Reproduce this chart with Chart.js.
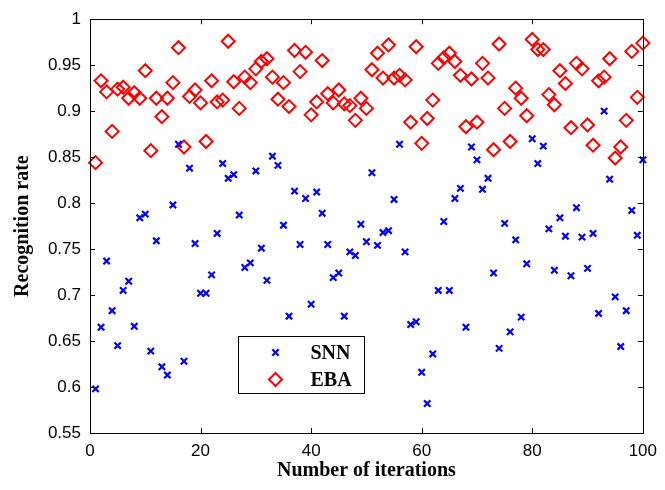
<!DOCTYPE html>
<html>
<head>
<meta charset="utf-8">
<script src="https://cdn.jsdelivr.net/npm/chart.js@4.4.1/dist/chart.umd.min.js"></script>
<style>
  html, body { margin: 0; padding: 0; background: #fff; }
</style>
</head>
<body>
<canvas id="recogChart" width="665" height="490"></canvas>
<script>
// iteration index of every run
const iterations = [
  1, 2, 3, 4, 5, 6, 7, 8, 9, 10, 11, 12, 13, 14, 15, 16, 17, 18, 19, 20,
  21, 22, 23, 24, 25, 26, 27, 28, 29, 30, 31, 32, 33, 34, 35, 36, 37, 38, 39, 40,
  41, 42, 43, 44, 45, 46, 47, 48, 49, 50, 51, 52, 53, 54, 55, 56, 57, 58, 59, 60,
  61, 62, 63, 64, 65, 66, 67, 68, 69, 70, 71, 72, 73, 74, 75, 76, 77, 78, 79, 80,
  81, 82, 83, 84, 85, 86, 87, 88, 89, 90, 91, 92, 93, 94, 95, 96, 97, 98, 99, 100
];

const snnRate = [
  0.598, 0.665, 0.737, 0.683, 0.645, 0.705, 0.715, 0.666, 0.784, 0.788,
  0.639, 0.759, 0.622, 0.613, 0.798, 0.864, 0.628, 0.838, 0.756, 0.702,
  0.702, 0.722, 0.767, 0.843, 0.827, 0.831, 0.787, 0.730, 0.735, 0.835,
  0.751, 0.716, 0.851, 0.841, 0.776, 0.677, 0.813, 0.755, 0.805, 0.690,
  0.812, 0.789, 0.755, 0.719, 0.724, 0.677, 0.747, 0.743, 0.777, 0.758,
  0.833, 0.754, 0.768, 0.770, 0.804, 0.864, 0.747, 0.668, 0.671, 0.616,
  0.582, 0.636, 0.705, 0.780, 0.705, 0.805, 0.816, 0.665, 0.861, 0.847,
  0.815, 0.827, 0.724, 0.642, 0.778, 0.660, 0.760, 0.676, 0.734, 0.870,
  0.843, 0.862, 0.772, 0.727, 0.784, 0.764, 0.721, 0.795, 0.763, 0.729,
  0.767, 0.680, 0.900, 0.826, 0.698, 0.644, 0.683, 0.792, 0.765, 0.847
];

const ebaRate = [
  0.844, 0.933, 0.921, 0.878, 0.924, 0.926, 0.914, 0.920, 0.914, 0.944,
  0.857, 0.914, 0.894, 0.914, 0.931, 0.969, 0.861, 0.916, 0.923, 0.909,
  0.867, 0.933, 0.910, 0.912, 0.976, 0.932, 0.903, 0.937, 0.931, 0.946,
  0.954, 0.957, 0.937, 0.913, 0.931, 0.905, 0.966, 0.943, 0.964, 0.896,
  0.910, 0.955, 0.919, 0.909, 0.923, 0.908, 0.906, 0.890, 0.914, 0.903,
  0.945, 0.963, 0.936, 0.972, 0.936, 0.939, 0.934, 0.888, 0.970, 0.865,
  0.892, 0.912, 0.952, 0.958, 0.963, 0.954, 0.939, 0.883, 0.935, 0.888,
  0.952, 0.936, 0.858, 0.973, 0.903, 0.867, 0.925, 0.914, 0.895, 0.978,
  0.967, 0.967, 0.918, 0.907, 0.944, 0.930, 0.882, 0.952, 0.946, 0.885,
  0.863, 0.933, 0.937, 0.957, 0.849, 0.861, 0.890, 0.965, 0.915, 0.974
];

const xTicks = [0, 20, 40, 60, 80, 100];
const xTickLabels = ["0", "20", "40", "60", "80", "100"];
const yTicks = [0.55, 0.6, 0.65, 0.7, 0.75, 0.8, 0.85, 0.9, 0.95, 1];
const yTickLabels = ["0.55", "0.6", "0.65", "0.7", "0.75", "0.8", "0.85", "0.9", "0.95", "1"];

const seriesNames = ["SNN", "EBA"];

const tickFont = { family: "'Liberation Sans', Arial, sans-serif", size: 17 };
const titleFont = { family: "'Liberation Serif', 'Times New Roman', serif", size: 20, weight: "bold" };

// box, inward ticks on all four sides and the legend, matlab style
const matlabFrame = {
  id: "matlabFrame",
  afterDraw(chart) {
    const { ctx, chartArea: a, scales: { x, y } } = chart;
    const tickLen = 5;
    ctx.save();
    ctx.strokeStyle = "#000";
    ctx.lineWidth = 1;
    ctx.strokeRect(Math.round(a.left) + 0.5, Math.round(a.top) + 0.5,
      Math.round(a.right - a.left), Math.round(a.bottom - a.top));
    ctx.beginPath();
    xTicks.forEach((v) => {
      const px = Math.round(x.getPixelForValue(v)) + 0.5;
      ctx.moveTo(px, a.bottom); ctx.lineTo(px, a.bottom - tickLen);
      ctx.moveTo(px, a.top); ctx.lineTo(px, a.top + tickLen);
    });
    yTicks.forEach((v) => {
      const py = Math.round(y.getPixelForValue(v)) + 0.5;
      ctx.moveTo(a.left, py); ctx.lineTo(a.left + tickLen, py);
      ctx.moveTo(a.right, py); ctx.lineTo(a.right - tickLen, py);
    });
    ctx.stroke();

    // legend box, anchored in data units
    const l = Math.round(x.getPixelForValue(26.8)) + 0.5;
    const r = Math.round(x.getPixelForValue(49.6)) + 0.5;
    const t = Math.round(y.getPixelForValue(0.6557)) + 0.5;
    const b = Math.round(y.getPixelForValue(0.5932)) + 0.5;
    ctx.fillStyle = "#fff";
    ctx.fillRect(l, t, r - l, b - t);
    ctx.strokeRect(l, t, r - l, b - t);
    ctx.font = "bold 20px 'Liberation Serif', 'Times New Roman', serif";
    ctx.textBaseline = "middle";
    ctx.textAlign = "left";
    chart.data.datasets.forEach((ds, i) => {
      const rowY = t + 16 + i * 27;
      ctx.strokeStyle = ds.borderColor;
      ctx.fillStyle = "rgba(0,0,0,0)";
      ctx.lineWidth = ds.borderWidth;
      Chart.helpers.drawPoint(ctx, {
        pointStyle: ds.pointStyle, radius: ds.pointRadius,
        rotation: 0, borderWidth: ds.borderWidth
      }, l + 37, rowY);
      ctx.fillStyle = "#000";
      ctx.fillText(ds.label, l + 72, rowY + 1);
    });
    ctx.restore();
  }
};

const ctx = document.getElementById("recogChart").getContext("2d");
new Chart(ctx, {
  type: "scatter",
  data: {
    datasets: [
      {
        label: seriesNames[0],
        data: iterations.map((it, i) => ({ x: it, y: snnRate[i] })),
        pointStyle: "crossRot",
        pointRadius: 4.5,
        borderWidth: 2.2,
        borderColor: "#0000ff",
        backgroundColor: "#0000ff",
        clip: false,
      },
      {
        label: seriesNames[1],
        data: iterations.map((it, i) => ({ x: it, y: ebaRate[i] })),
        pointStyle: "rectRot",
        pointRadius: 6.5,
        borderWidth: 2,
        borderColor: "#ff0000",
        backgroundColor: "rgba(0,0,0,0)",
        clip: false,
      },
    ],
  },
  options: {
    responsive: false,
    animation: false,
    layout: { padding: { top: 15, right: 19, left: 0, bottom: 0 } },
    scales: {
      x: {
        type: "linear",
        min: 0,
        max: 100,
        afterBuildTicks: (s) => { s.ticks = xTicks.map((v) => ({ value: v })); },
        afterFit: (s) => { s.height = 57; },
        grid: { display: false, drawTicks: false },
        border: { display: false },
        ticks: {
          padding: 8,
          maxRotation: 0,
          autoSkip: false,
          color: "#000",
          font: tickFont,
          callback: (v, i) => xTickLabels[i],
        },
        title: {
          display: true,
          text: "Number of iterations",
          color: "#000",
          font: titleFont,
          padding: { top: 0, bottom: 7 },
        },
      },
      y: {
        type: "linear",
        min: 0.55,
        max: 1,
        afterBuildTicks: (s) => { s.ticks = yTicks.map((v) => ({ value: v })); },
        afterFit: (s) => { s.width = 90; },
        grid: { display: false, drawTicks: false },
        border: { display: false },
        ticks: {
          padding: 9,
          autoSkip: false,
          color: "#000",
          font: tickFont,
          callback: (v, i) => yTickLabels[i],
        },
        title: {
          display: true,
          text: "Recognition rate",
          color: "#000",
          font: titleFont,
          padding: { top: 11, bottom: 0 },
        },
      },
    },
    plugins: {
      legend: { display: false },
      tooltip: { enabled: false },
    },
  },
  plugins: [matlabFrame],
});
</script>
</body>
</html>
